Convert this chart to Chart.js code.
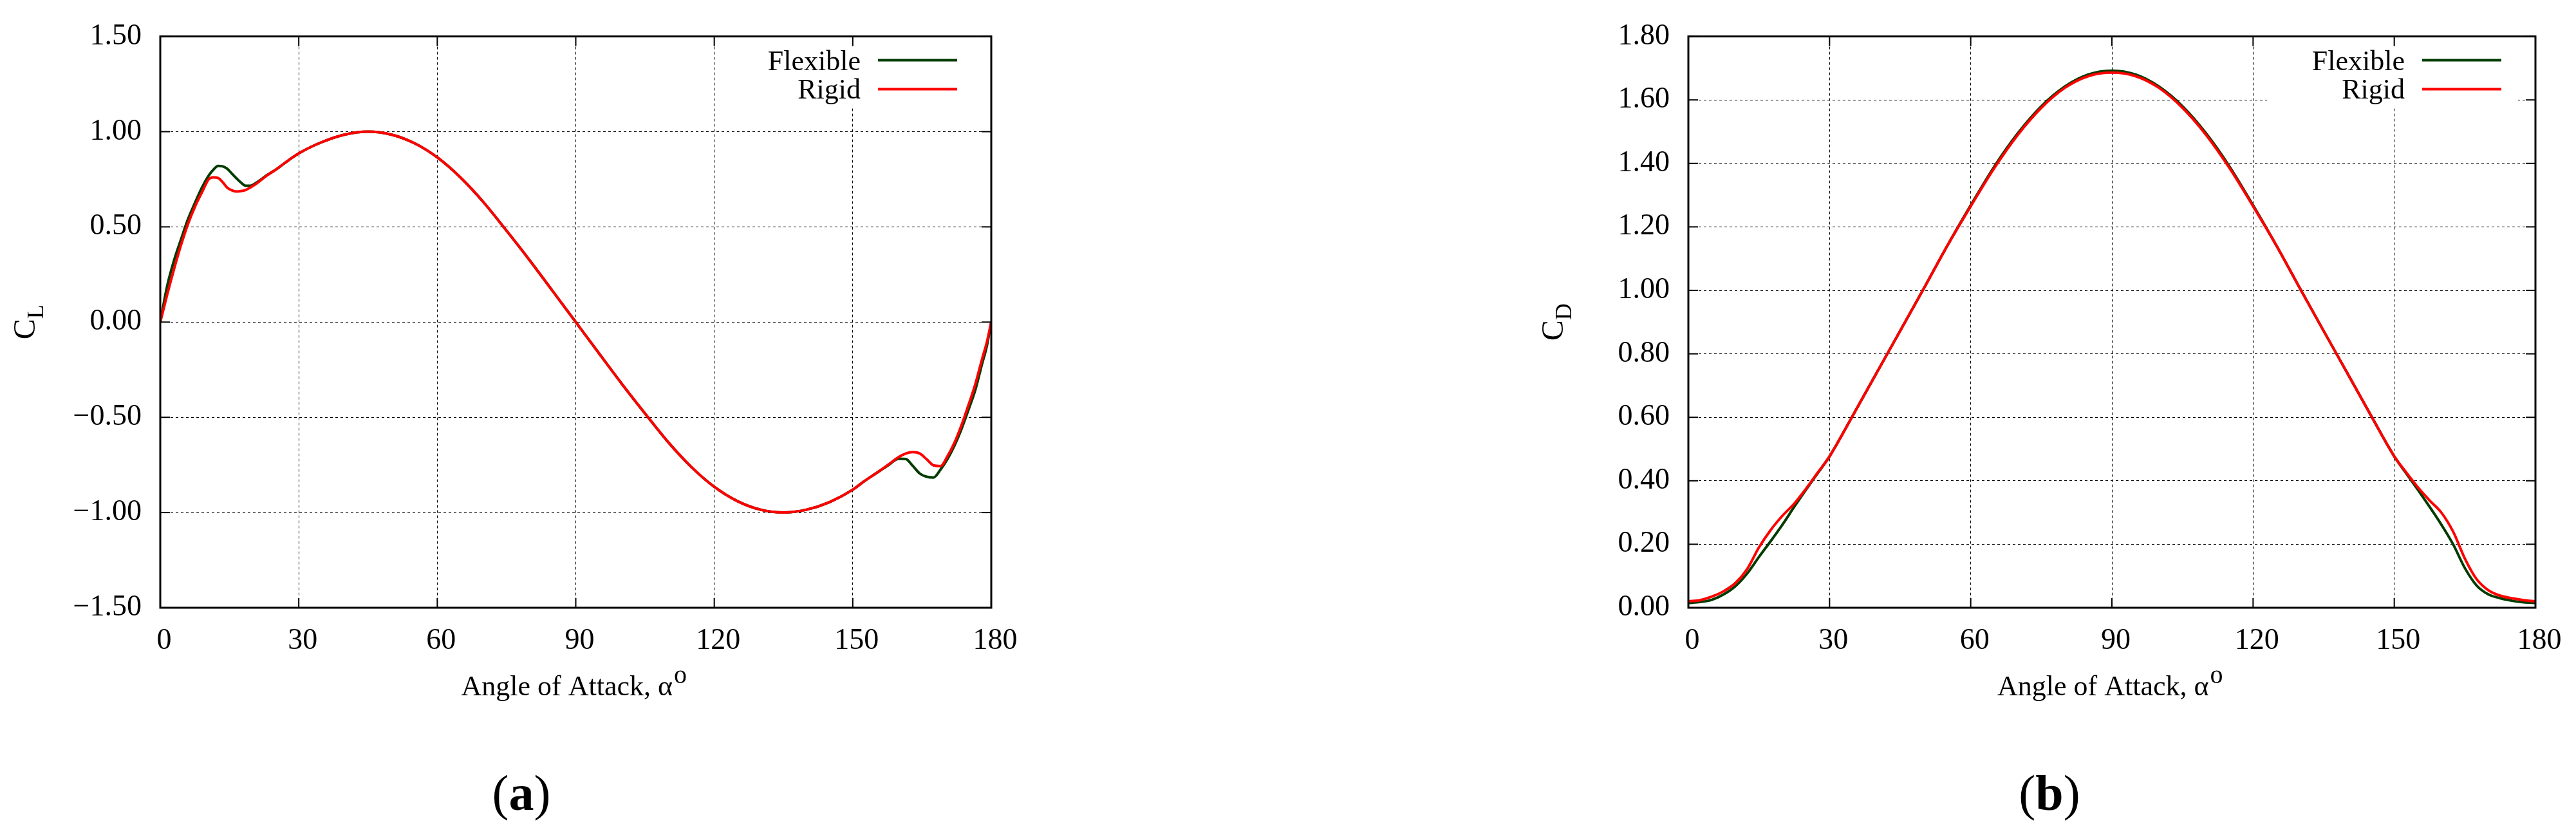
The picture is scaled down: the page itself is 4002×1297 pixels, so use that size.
<!DOCTYPE html>
<html><head><meta charset="utf-8">
<script src="https://cdn.jsdelivr.net/npm/chart.js@4.4.1/dist/chart.umd.min.js"></script>
<style>
html,body{margin:0;padding:0;background:#fff;width:4002px;height:1297px;overflow:hidden;}
canvas{position:absolute;top:0;}
#ca{left:0px}
#cb{left:2000px}
</style></head><body>
<canvas id="ca" width="2000" height="1297"></canvas>
<canvas id="cb" width="2002" height="1297"></canvas>
<script>
const FONT = "'Liberation Serif', serif";
Chart.defaults.font.family = FONT;
const GREEN = '#003c00';
const RED = '#ff0000';

const seriesNames = ['Flexible', 'Rigid'];
const xTitleText = 'Angle of Attack, \u03b1';
const xTitleSup = 'o';

const angleTicks = [0, 30, 60, 90, 120, 150, 180];
const liftTicks = [-1.5, -1.0, -0.5, 0, 0.5, 1.0, 1.5];
const dragTicks = [0, 0.2, 0.4, 0.6, 0.8, 1.0, 1.2, 1.4, 1.6, 1.8];

const liftAngles = [0,1.5,3,4.5,6,7.5,9,10.5,11.5,12.5,13.5,14.5,15.5,16.5,17.5,18.5,19.5,21,23,25,27.5,30,35,40,45,50,55,60,65,70,75,80,85,90,95,100,105,110,115,120,125,130,135,140,145,150,152.5,155,157.5,160,161.5,163,164.5,166,167.5,169,170.5,172,173.5,175,176.5,178,179,180];
const liftFlexible = [0,0.19,0.325,0.435,0.54,0.625,0.705,0.77,0.80,0.82,0.818,0.805,0.78,0.755,0.732,0.716,0.716,0.735,0.77,0.80,0.845,0.886,0.945,0.985,1.0,0.985,0.94,0.865,0.76,0.63,0.48,0.325,0.163,0,-0.163,-0.325,-0.48,-0.63,-0.76,-0.865,-0.94,-0.985,-1.0,-0.985,-0.945,-0.88,-0.835,-0.795,-0.755,-0.717,-0.719,-0.755,-0.795,-0.812,-0.816,-0.775,-0.72,-0.65,-0.565,-0.465,-0.36,-0.22,-0.13,0];
const liftRigid = [0,0.145,0.28,0.405,0.515,0.605,0.68,0.75,0.76,0.757,0.735,0.706,0.692,0.686,0.688,0.694,0.707,0.73,0.768,0.80,0.845,0.886,0.945,0.985,1.0,0.985,0.94,0.865,0.76,0.63,0.48,0.325,0.163,0,-0.163,-0.325,-0.48,-0.63,-0.76,-0.865,-0.94,-0.985,-1.0,-0.985,-0.945,-0.88,-0.835,-0.795,-0.752,-0.708,-0.69,-0.683,-0.69,-0.72,-0.752,-0.756,-0.705,-0.635,-0.545,-0.44,-0.33,-0.195,-0.11,0];

const dragAngles = [0,2.5,5,7.5,10,12.5,15,17.5,20,22.5,25,27.5,30,35,40,45,50,55,60,65,70,75,80,85,90,95,100,105,110,115,120,125,130,135,140,145,150,152.5,155,157.5,160,162.5,165,167.5,170,172.5,175,177.5,180];
const dragFlexible = [0.015,0.018,0.025,0.042,0.068,0.108,0.16,0.21,0.262,0.318,0.372,0.424,0.477,0.607,0.74,0.872,1.005,1.14,1.268,1.39,1.495,1.58,1.642,1.68,1.692,1.68,1.642,1.58,1.495,1.39,1.268,1.14,1.005,0.872,0.74,0.607,0.477,0.424,0.372,0.318,0.262,0.20,0.125,0.07,0.042,0.03,0.022,0.017,0.015];
const dragRigid = [0.02,0.024,0.035,0.052,0.078,0.122,0.19,0.245,0.29,0.328,0.375,0.426,0.477,0.607,0.74,0.872,1.005,1.14,1.265,1.385,1.49,1.575,1.638,1.675,1.686,1.675,1.638,1.575,1.49,1.385,1.265,1.14,1.005,0.872,0.74,0.607,0.477,0.427,0.38,0.338,0.30,0.24,0.155,0.09,0.055,0.038,0.03,0.024,0.02];

function pts(xs, ys){ return xs.map((x,i)=>({x:x, y:ys[i]})); }
function fmtY(v){ return (v < 0 ? '\u2212' : '') + Math.abs(v).toFixed(2); }

function framePlugin(titleMain, titleSub, panel){
  return {
    id: 'frame',
    beforeDatasetsDraw(chart){
      const {ctx, chartArea:a} = chart;
      ctx.save();
      ctx.fillStyle = '#fff';
      ctx.fillRect(a.right - 417, a.top + 9, 390, 99);
      ctx.restore();
    },
    afterDraw(chart){
      const {ctx, chartArea:a, scales} = chart;
      const x = scales.x, y = scales.y;
      ctx.save();
      ctx.setLineDash([]);
      ctx.strokeStyle = '#000';
      ctx.lineWidth = 2;
      const seg = (x1,y1,x2,y2)=>{ ctx.beginPath(); ctx.moveTo(x1,y1); ctx.lineTo(x2,y2); ctx.stroke(); };
      x.ticks.forEach(t=>{ const p = x.getPixelForValue(t.value); seg(p,a.bottom,p,a.bottom-15); seg(p,a.top,p,a.top+15); });
      y.ticks.forEach(t=>{ const p = y.getPixelForValue(t.value); seg(a.left,p,a.left+15,p); seg(a.right,p,a.right-15,p); });
      ctx.lineWidth = 3;
      ctx.strokeRect(a.left, a.top, a.right - a.left, a.bottom - a.top);

      // legend
      ctx.font = '44px ' + FONT;
      ctx.fillStyle = '#000';
      ctx.textAlign = 'right';
      ctx.textBaseline = 'alphabetic';
      chart.data.datasets.forEach((ds, i)=>{
        const ty = a.top + 52 + i*44;
        const ly = a.top + 37 + i*45;
        ctx.fillText(ds.label, a.right - 203, ty);
        ctx.strokeStyle = ds.borderColor;
        ctx.lineWidth = 4;
        seg(a.right - 176, ly, a.right - 53, ly);
      });

      // y title with subscript
      ctx.save();
      ctx.translate(a.left - 195, (a.top + a.bottom) / 2);
      ctx.rotate(-Math.PI/2);
      ctx.textAlign = 'left';
      ctx.font = '48px ' + FONT;
      const wC = ctx.measureText(titleMain).width;
      ctx.font = '36px ' + FONT;
      const wS = ctx.measureText(titleSub).width;
      const sx = -(wC + wS) / 2;
      ctx.fillStyle = '#000';
      ctx.font = '48px ' + FONT;
      ctx.fillText(titleMain, sx, 0);
      ctx.font = '36px ' + FONT;
      ctx.fillText(titleSub, sx + wC, 13);
      ctx.restore();

      // x title with superscript
      ctx.textAlign = 'left';
      ctx.fillStyle = '#000';
      ctx.font = '44px ' + FONT;
      const xl = (a.left + a.right) / 2 - 178;
      const xb = a.bottom + 136;
      ctx.fillText(xTitleText, xl, xb);
      const wm = ctx.measureText(xTitleText).width;
      ctx.font = '40px ' + FONT;
      ctx.fillText(xTitleSup, xl + wm + 2, xb - 19);

      // panel label
      ctx.font = '78px ' + FONT;
      const wp = ctx.measureText('(').width;
      ctx.font = 'bold 78px ' + FONT;
      const wa = ctx.measureText(panel).width;
      const total = 2*wp + wa;
      const pc = a.left + 561;
      const pb = a.bottom + 314;
      const px = pc - total/2;
      ctx.font = '78px ' + FONT;
      ctx.fillText('(', px, pb);
      ctx.font = 'bold 78px ' + FONT;
      ctx.fillText(panel, px + wp, pb);
      ctx.font = '78px ' + FONT;
      ctx.fillText(')', px + wp + wa, pb);
      ctx.restore();
    }
  };
}

function makeChart(id, angles, flex, rigid, yTicks, yMin, yMax, padLeft, padRight, titleMain, titleSub, panel){
  return new Chart(document.getElementById(id), {
    type: 'line',
    data: {
      datasets: [
        {label: seriesNames[0], data: pts(angles, flex), borderColor: GREEN, borderWidth: 4, pointRadius: 0, cubicInterpolationMode: 'monotone', order: 2, fill: false},
        {label: seriesNames[1], data: pts(angles, rigid), borderColor: RED, borderWidth: 4, pointRadius: 0, cubicInterpolationMode: 'monotone', order: 1, fill: false}
      ]
    },
    options: {
      responsive: false,
      devicePixelRatio: 1,
      animation: false,
      events: [],
      layout: {padding: {left: padLeft, right: padRight, top: 44, bottom: 0}},
      plugins: {legend: {display: false}, tooltip: {enabled: false}, title: {display: false}},
      scales: {
        x: {
          type: 'linear', min: 0, max: 180,
          afterBuildTicks: s => { s.ticks = angleTicks.map(v => ({value: v})); },
          afterFit: s => { s.height = 353; },
          grid: {color: '#000', lineWidth: 1, drawTicks: false},
          border: {display: false, dash: [4, 4]},
          ticks: {font: {family: FONT, size: 46}, color: '#000', padding: 24, labelOffset: 6, maxRotation: 0, callback: v => String(v)}
        },
        y: {
          type: 'linear', min: yMin, max: yMax,
          afterBuildTicks: s => { s.ticks = yTicks.map(v => ({value: v})); },
          afterFit: s => { s.width = 249; },
          grid: {color: '#000', lineWidth: 1, drawTicks: false},
          border: {display: false, dash: [4, 4]},
          ticks: {font: {family: FONT, size: 46}, color: '#000', padding: 29, callback: v => fmtY(v)}
        }
      }
    },
    plugins: [framePlugin(titleMain, titleSub, panel)]
  });
}

makeChart('ca', liftAngles, liftFlexible, liftRigid, liftTicks, -1.5, 1.5, 0, 460, 'C', 'L', 'a');
makeChart('cb', dragAngles, dragFlexible, dragRigid, dragTicks, 0, 1.8, 374, 63, 'C', 'D', 'b');
</script>
</body></html>
